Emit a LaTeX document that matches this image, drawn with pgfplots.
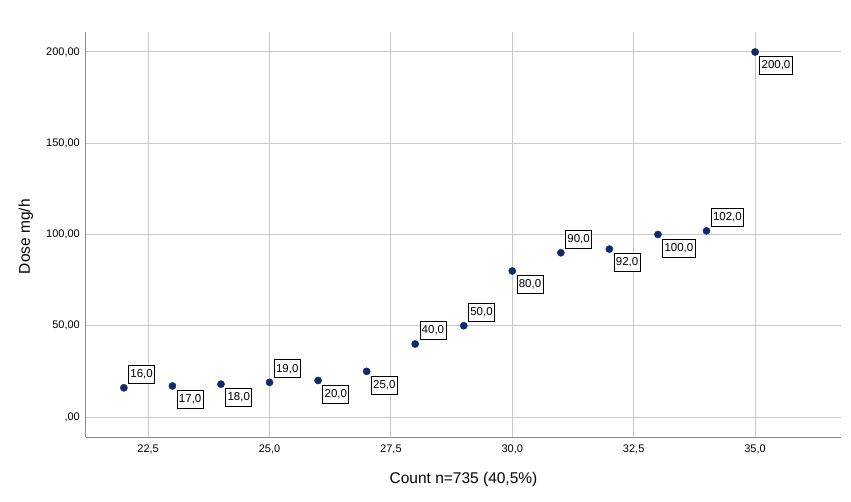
\documentclass[border=0pt]{standalone}
\usepackage{fontspec}
\setmainfont{Liberation Sans}
\usepackage{pgfplots}
\usepackage{pgfplotstable}
\pgfplotsset{compat=1.18}
\definecolor{navy}{HTML}{102A6E}
\definecolor{gridc}{HTML}{C8C8C8}
\definecolor{axc}{HTML}{8C8C8C}

\pgfplotstableread{
x  y   dy
22 16   1
23 17  -1
24 18  -1
25 19   1
26 20  -1
27 25  -1
28 40   1
29 50   1
30 80  -1
31 90   1
32 92  -1
33 100 -1
34 102  1
35 200 -1
}\dosedata

\begin{document}
\begin{tikzpicture}
\begin{axis}[
  name=ax, at={(0,0)}, anchor=south west,
  scale only axis, width=755pt, height=405pt,
  xmin=21.22, xmax=36.77, ymin=-10.96, ymax=210.96,
  axis x line*=bottom, axis y line*=left,
  axis line style={draw=axc, line width=1pt, -},
  xtick={22.5,25,27.5,30,32.5,35},
  xticklabels={{22,5},{25,0},{27,5},{30,0},{32,5},{35,0}},
  ytick={0,50,100,150,200},
  yticklabels={{,00},{50,00},{100,00},{150,00},{200,00}},
  major tick length=0pt,
  grid=major, major grid style={draw=gridc, line width=1pt},
  tick label style={font=\fontsize{11}{13}\selectfont, text=black},
  xticklabel style={anchor=center, inner sep=0pt, yshift=-12.5pt},
  yticklabel style={anchor=east, inner sep=0pt, xshift=-6pt},
  xlabel={Count n=735 (40,5\%)}, ylabel={Dose mg/h},
  every axis x label/.style={at={(axis description cs:0.5,-0.1037)}, anchor=center, font=\fontsize{15.5}{18}\selectfont},
  every axis y label/.style={at={(axis description cs:-0.0795,0.495)}, anchor=center, rotate=90, font=\fontsize{15.5}{18}\selectfont},
  clip=false,
]
\addplot[only marks, mark=*, mark size=3.6pt, mark options={fill=navy, draw=navy},
  visualization depends on={\thisrow{dy}\as\dy},
  point meta=y,
  nodes near coords={\pgfmathprintnumber[assume math mode=true,use comma,fixed,fixed zerofill,precision=1]{\pgfplotspointmeta}},
  every node near coord/.append style={anchor=west, xshift=4.4pt, yshift=\dy*13.5pt,
     draw=black, line width=0.7pt, fill=white, inner xsep=1.8pt, inner ysep=0pt,
     minimum height=18pt, font=\fontsize{11.5}{13}\selectfont, text=black},
] table[x=x, y=y] {\dosedata};
\end{axis}
\pgfresetboundingbox
\path[use as bounding box] ([shift={(-86pt,-64pt)}]ax.south west) rectangle ([shift={(765pt,437pt)}]ax.south west);
\end{tikzpicture}
\end{document}
